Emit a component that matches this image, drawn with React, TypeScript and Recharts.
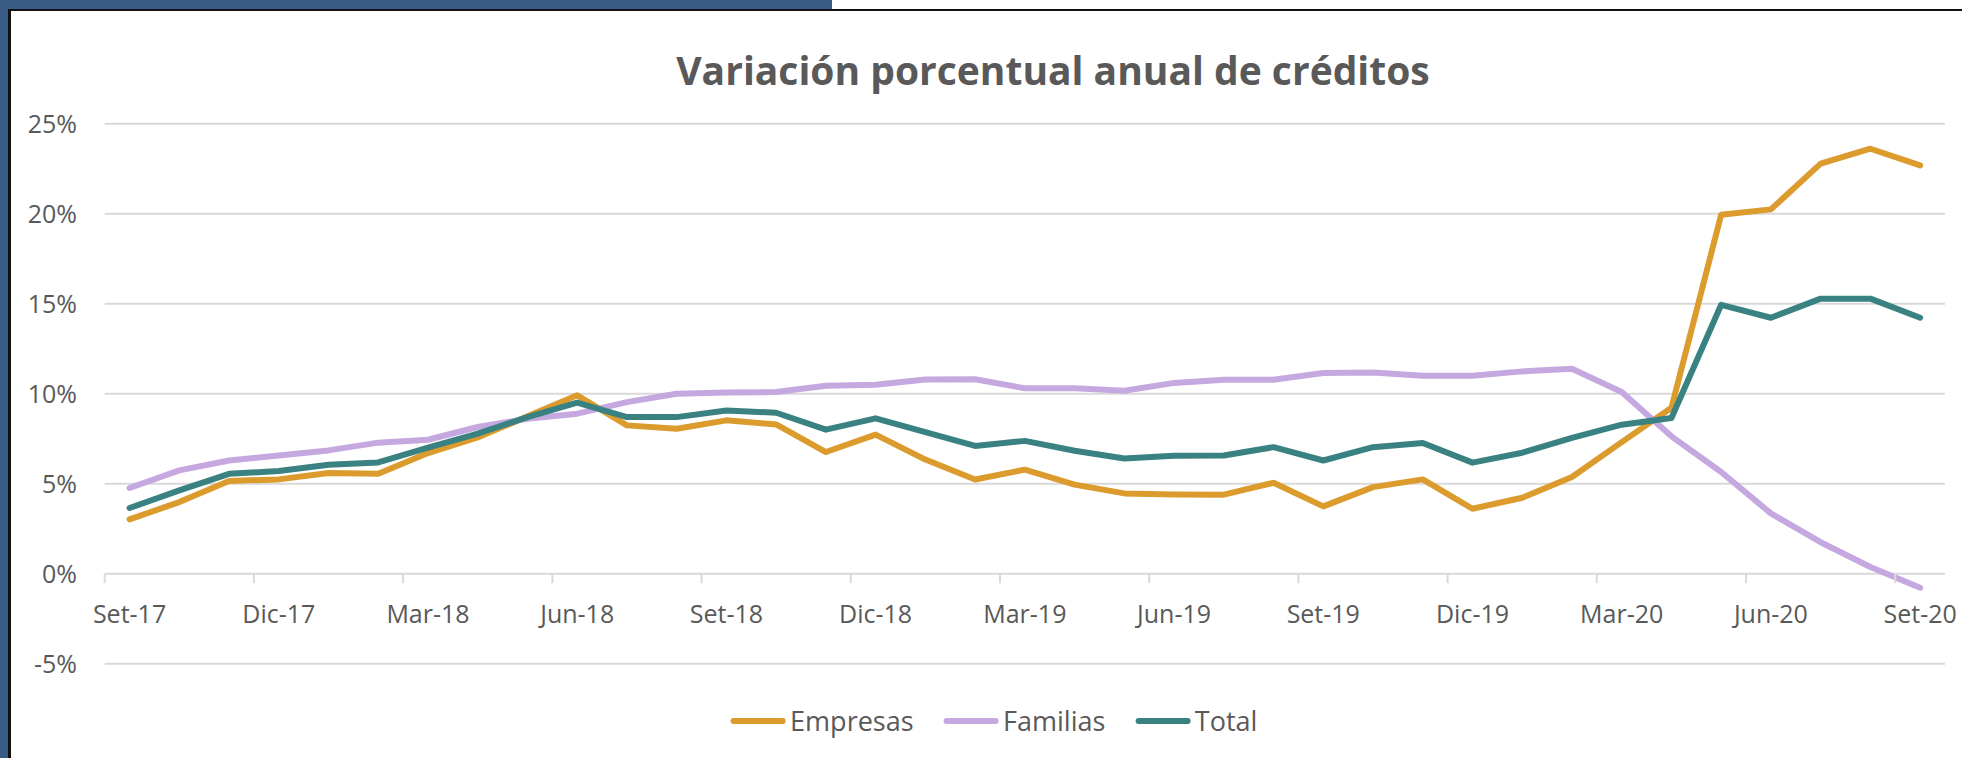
import { LineChart, Line, XAxis, YAxis, CartesianGrid } from 'recharts';

const months = [
  'Set-17', 'Oct-17', 'Nov-17', 'Dic-17', 'Ene-18', 'Feb-18', 'Mar-18', 'Abr-18', 'May-18', 'Jun-18', 'Jul-18', 'Ago-18',
  'Set-18', 'Oct-18', 'Nov-18', 'Dic-18', 'Ene-19', 'Feb-19', 'Mar-19', 'Abr-19', 'May-19', 'Jun-19', 'Jul-19', 'Ago-19',
  'Set-19', 'Oct-19', 'Nov-19', 'Dic-19', 'Ene-20', 'Feb-20', 'Mar-20', 'Abr-20', 'May-20', 'Jun-20', 'Jul-20', 'Ago-20',
  'Set-20',
];

// variación % anual
const empresas = [
  3.02, 3.98, 5.15, 5.24, 5.59, 5.55, 6.7, 7.57, 8.74, 9.91, 8.24, 8.05,
  8.52, 8.29, 6.76, 7.73, 6.34, 5.23, 5.78, 4.95, 4.46, 4.4, 4.39, 5.05,
  3.74, 4.81, 5.24, 3.61, 4.22, 5.37, 7.31, 9.22, 19.94, 20.24, 22.78, 23.61,
  22.68,
];
const familias = [
  4.76, 5.74, 6.29, 6.57, 6.85, 7.28, 7.44, 8.15, 8.61, 8.89, 9.53, 10.0,
  10.06, 10.09, 10.44, 10.5, 10.79, 10.8, 10.3, 10.3, 10.16, 10.6, 10.78, 10.78,
  11.15, 11.18, 11.0, 11.0, 11.24, 11.39, 10.09, 7.63, 5.65, 3.35, 1.75, 0.37,
  -0.78,
];
const total = [
  3.65, 4.63, 5.55, 5.7, 6.05, 6.18, 7.0, 7.78, 8.7, 9.5, 8.7, 8.7,
  9.07, 8.94, 8.0, 8.63, 7.87, 7.1, 7.38, 6.83, 6.4, 6.55, 6.57, 7.03,
  6.29, 7.03, 7.26, 6.17, 6.72, 7.55, 8.28, 8.65, 14.94, 14.22, 15.28, 15.28,
  14.22,
];

const yTicks = [-5, 0, 5, 10, 15, 20, 25];
const labelIdx = [0, 3, 6, 9, 12, 15, 18, 21, 24, 27, 30, 33, 36];

const series = [
  { key: 'empresas', name: 'Empresas', color: '#DC9B2D' },
  { key: 'familias', name: 'Familias', color: '#C5A8E0' },
  { key: 'total', name: 'Total', color: '#3A8282' },
];

const data = months.map((mes, i) => ({
  i,
  mes,
  empresas: empresas[i],
  familias: familias[i],
  total: total[i],
}));

const W = 1962;
const H = 758;
const FONT = '"Open Sans", sans-serif';
const TEXT = '#595959';
const GRID = '#D9D9D9';

// plot area
const PLOT_LEFT = 104.7;
const PLOT_RIGHT = 1945;
const PLOT_TOP = 123.7;
const PLOT_BOTTOM = 663.7;
const X_AXIS_H = 30;
const Y_MIN = -5;
const Y_MAX = 25;

const HALF_BAND = (PLOT_RIGHT - PLOT_LEFT) / months.length / 2;
// distance from plot bottom up to the 0% line
const ZERO_UP = ((0 - Y_MIN) / (Y_MAX - Y_MIN)) * (PLOT_BOTTOM - PLOT_TOP);

function MonthTick(props: any) {
  const { x, y, payload } = props;
  const zeroY = y - ZERO_UP;
  const bx = x - HALF_BAND;
  return (
    <g>
      <line x1={bx} x2={bx} y1={zeroY} y2={zeroY + 9.5} stroke={GRID} strokeWidth={2} />
      <text x={x} y={zeroY + 49} textAnchor="middle" fill={TEXT} fontSize={25} fontFamily={FONT}>
        {months[payload.value]}
      </text>
    </g>
  );
}

export default function App() {
  return (
    <div style={{ position: 'absolute', left: 0, top: 0, width: W, height: H, background: '#fff', overflow: 'hidden' }}>
      {/* frame */}
      <div style={{ position: 'absolute', left: 0, top: 0, width: 8, height: H, background: '#395C86' }} />
      <div style={{ position: 'absolute', left: 0, top: 0, width: 832, height: 9, background: '#395C86' }} />
      <div style={{ position: 'absolute', left: 8, top: 9, width: 2.7, height: H - 9, background: '#111' }} />
      <div style={{ position: 'absolute', left: 8, top: 9, width: W - 8, height: 2, background: '#111' }} />

      <div
        style={{
          position: 'absolute',
          left: 1053,
          top: 50.4,
          transform: 'translateX(-50%)',
          whiteSpace: 'nowrap',
          fontFamily: FONT,
          fontWeight: 700,
          fontSize: 39,
          lineHeight: 1,
          color: TEXT,
        }}
      >
        Variación porcentual anual de créditos
      </div>

      <div style={{ position: 'absolute', left: 0, top: 0 }}>
        <LineChart
          width={W}
          height={H}
          data={data}
          margin={{ top: PLOT_TOP, right: W - PLOT_RIGHT, left: 0, bottom: H - PLOT_BOTTOM - X_AXIS_H }}
        >
          <CartesianGrid horizontal vertical={false} stroke={GRID} strokeWidth={2} />
          <XAxis
            dataKey="i"
            type="number"
            domain={[-0.5, months.length - 0.5]}
            ticks={labelIdx}
            interval={0}
            height={X_AXIS_H}
            axisLine={false}
            tickLine={false}
            tickSize={0}
            tickMargin={0}
            tick={<MonthTick />}
          />
          <YAxis
            type="number"
            domain={[Y_MIN, Y_MAX]}
            ticks={yTicks}
            interval={0}
            width={PLOT_LEFT}
            axisLine={false}
            tickLine={false}
            tickSize={0}
            tickMargin={27.7}
            tickFormatter={(v: number) => `${v}%`}
            tick={{ fill: TEXT, fontSize: 25, fontFamily: FONT }}
          />
          {series.map((s) => (
            <Line
              key={s.key}
              type="linear"
              dataKey={s.key}
              name={s.name}
              stroke={s.color}
              strokeWidth={6}
              strokeLinejoin="round"
              strokeLinecap="round"
              dot={false}
              activeDot={false}
              isAnimationActive={false}
            />
          ))}
        </LineChart>
      </div>

      <div
        style={{
          position: 'absolute',
          left: 994,
          top: 706,
          transform: 'translateX(-50%)',
          display: 'flex',
          alignItems: 'center',
          whiteSpace: 'nowrap',
          fontFamily: FONT,
          fontSize: 27,
          lineHeight: '30px',
          color: TEXT,
        }}
      >
        {series.map((s, k) => (
          <div key={s.key} style={{ display: 'flex', alignItems: 'center', marginLeft: k === 0 ? 0 : 30 }}>
            <span
              style={{ display: 'inline-block', width: 55, height: 6, borderRadius: 3, background: s.color, marginRight: 4.5 }}
            />
            <span>{s.name}</span>
          </div>
        ))}
      </div>
    </div>
  );
}
